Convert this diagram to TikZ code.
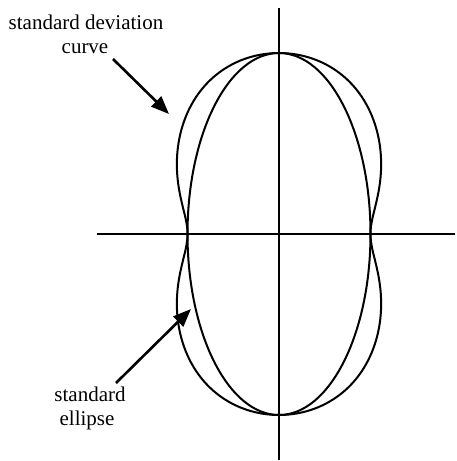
\documentclass[tikz,border=0pt]{standalone}
\usepackage{fontspec}
\setmainfont{Liberation Serif}
\usetikzlibrary{arrows.meta}
\begin{document}
\begin{tikzpicture}[x=1pt,y=-1pt,
  curveline/.style={line width=2pt},
  axisline/.style={line width=1.8pt},
  pointer/.style={line width=2.6pt,-{Triangle[length=18pt,width=14pt]}},
  lbl/.style={font=\fontsize{21}{24}\selectfont,align=center,inner sep=0pt}]
\useasboundingbox (0,0) rectangle (457,461);
\coordinate (O) at (279,234);
\coordinate (xl) at (97,234);
\coordinate (xr) at (455,234);
\coordinate (yt) at (279,8);
\coordinate (yb) at (279,460);
\draw[axisline] (xl) -- (xr);
\draw[axisline] (yt) -- (yb);
% standard ellipse
\draw[curveline] (O) ellipse [x radius=91.5, y radius=181];
% standard deviation curve
\begin{scope}[shift={(O)},x=100pt,y=-100pt]
\draw[curveline,smooth,samples=240,variable=\t,domain=0:360]
  plot ({sqrt(0.8372*cos(\t)^2+3.2761*sin(\t)^2)*cos(\t)*(1-0.03*sin(2*\t)^2)},
        {sqrt(0.8372*cos(\t)^2+3.2761*sin(\t)^2)*sin(\t)}) -- cycle;
\end{scope}
% labels
\node[lbl,anchor=base] (sdl) at (86,29.5) {standard deviation};
\node[lbl,anchor=base] (sdl2) at (85,53) {curve};
\node[lbl,anchor=base] (el) at (90,401) {standard};
\node[lbl,anchor=base] (el2) at (87,425) {ellipse};
\coordinate (a1s) at (113,59);
\coordinate (a1e) at (169,114);
\coordinate (a2s) at (116,383);
\coordinate (a2e) at (191,309);
\draw[pointer] (a1s) -- (a1e);
\draw[pointer] (a2s) -- (a2e);
\end{tikzpicture}
\end{document}
